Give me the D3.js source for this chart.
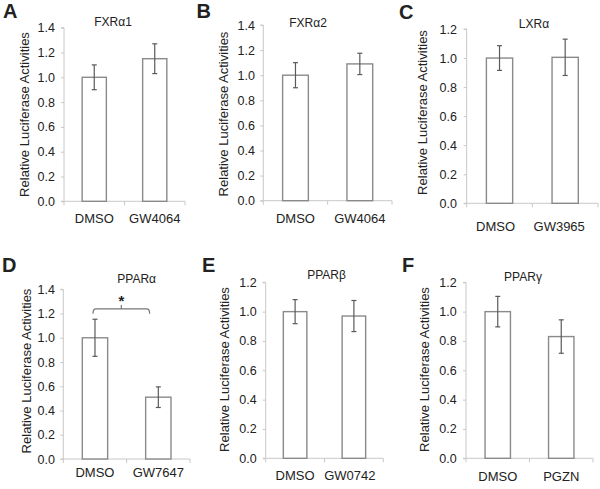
<!DOCTYPE html>
<html><head><meta charset="utf-8">
<script src="https://cdn.jsdelivr.net/npm/d3@7"></script>
<style>body{margin:0;background:#fff}svg{display:block}text{font-family:"Liberation Sans",Arial,sans-serif;fill:#222}</style>
</head><body><svg id="c" width="600" height="489"></svg>
<script>
// ---- data ----
const panelLetters = ["A","B","C","D","E","F"];
const titles = ["FXRα1","FXRα2","LXRα","PPARα","PPARβ","PPARγ"];
const categoriesA = ["DMSO","GW4064"];
const categoriesB = ["DMSO","GW4064"];
const categoriesC = ["DMSO","GW3965"];
const categoriesD = ["DMSO","GW7647"];
const categoriesE = ["DMSO","GW0742"];
const categoriesF = ["DMSO","PGZN"];
const valuesA = [1.00, 1.15], errorsA = [0.10, 0.12];
const valuesB = [1.00, 1.09], errorsB = [0.10, 0.085];
const valuesC = [1.00, 1.005], errorsC = [0.085, 0.125];
const valuesD = [1.00, 0.51], errorsD = [0.153, 0.085];
const valuesE = [1.00, 0.97], errorsE = [0.082, 0.106];
const valuesF = [1.00, 0.83], errorsF = [0.104, 0.114];
const yMaxes = [1.4, 1.4, 1.2, 1.4, 1.2, 1.2];
const yTicks14 = [0,0.2,0.4,0.6,0.8,1.0,1.2,1.4];
const yTicks12 = [0,0.2,0.4,0.6,0.8,1.0,1.2];
const yLabel = "Relative Luciferase Activities";
const sigMark = "*";

const categories = [categoriesA,categoriesB,categoriesC,categoriesD,categoriesE,categoriesF];
const values = [valuesA,valuesB,valuesC,valuesD,valuesE,valuesF];
const errors = [errorsA,errorsB,errorsC,errorsD,errorsE,errorsF];

// ---- layout (pixels) ----
const layout = [
  {x0:64,   x1:185, yTop:27.7,  yBot:201.3, tickR:55,    catY:222.5, catShift:[0,0],  titleX:113, titleY:26, letX:3,   letY:17.5,  labX:24,  labY:114.5},
  {x0:263.3,x1:392, yTop:25,    yBot:200.7, tickR:255,   catY:222.5, catShift:[0,0],  titleX:308, titleY:26.5, letX:196.5, letY:17.5, labX:223, labY:114},
  {x0:466.7,x1:598, yTop:29,    yBot:203.3, tickR:457,   catY:231,   catShift:[-4,-6], titleX:534, titleY:27.5, letX:399, letY:18.5, labX:422.5, labY:112.5},
  {x0:63.3, x1:190, yTop:289.3, yBot:459,   tickR:55,    catY:476.5, catShift:[0,0],  titleX:136.7, titleY:283, letX:2, letY:272, labX:26, labY:371},
  {x0:265.7,x1:383.3,yTop:282.3,yBot:458.3, tickR:256.7, catY:480,   catShift:[0,-4], titleX:326.5, titleY:279, letX:202, letY:271.5, labX:224, labY:369.5},
  {x0:466,  x1:593, yTop:282.3, yBot:458.3, tickR:456.7, catY:480.5, catShift:[0,0],  titleX:523, titleY:280.5, letX:402, letY:272, labX:424, labY:369.5}
];

const svg = d3.select("#c");
const axisCol = "#c8c8c8", barCol = "#8a8a8a", errCol = "#5a5a5a";

layout.forEach((L,i)=>{
  const g = svg.append("g");
  const x = d3.scaleBand().domain(categories[i]).range([L.x0, L.x1]).paddingInner(0.6).paddingOuter(0.3);
  const y = d3.scaleLinear().domain([0, yMaxes[i]]).range([L.yBot, L.yTop]);
  const ticks = yMaxes[i] > 1.3 ? yTicks14 : yTicks12;

  // y axis
  const ya = g.append("g").attr("transform",`translate(${L.x0},0)`)
    .call(d3.axisLeft(y).tickValues(ticks).tickFormat(d3.format(".1f")).tickSize(3).tickPadding(L.x0 - L.tickR - 3));
  ya.select(".domain").attr("stroke",axisCol).attr("stroke-width",1).attr("d",`M-3,${y(yMaxes[i])}H0V${L.yBot}`);
  ya.selectAll(".tick line").attr("stroke",axisCol);
  ya.selectAll(".tick text").attr("font-size",12.5).attr("fill","#222").attr("font-family","Liberation Sans, Arial, sans-serif");

  // x axis line + ticks between categories
  g.append("line").attr("x1",L.x0-3).attr("x2",L.x1).attr("y1",L.yBot).attr("y2",L.yBot).attr("stroke",axisCol);
  const bounds = [L.x0, (L.x0+L.x1)/2, L.x1];
  g.selectAll(".xt").data(bounds).join("line").attr("x1",d=>d).attr("x2",d=>d)
    .attr("y1",L.yBot).attr("y2",L.yBot+4).attr("stroke",axisCol);

  // bars
  g.selectAll(".bar").data(values[i]).join("rect")
    .attr("x",(d,j)=>x(categories[i][j])).attr("width",x.bandwidth())
    .attr("y",d=>y(d)).attr("height",d=>L.yBot - y(d))
    .attr("fill","#fff").attr("stroke",barCol).attr("stroke-width",1.4);

  // error bars
  values[i].forEach((v,j)=>{
    const cx = x(categories[i][j]) + x.bandwidth()/2;
    const e = errors[i][j];
    g.append("line").attr("x1",cx).attr("x2",cx).attr("y1",y(v+e)).attr("y2",y(v-e)).attr("stroke",errCol).attr("stroke-width",1.2);
    [v+e, v-e].forEach(w=>g.append("line").attr("x1",cx-2.5).attr("x2",cx+2.5).attr("y1",y(w)).attr("y2",y(w)).attr("stroke",errCol).attr("stroke-width",1.2));
  });

  // category labels
  g.selectAll(".cat").data(categories[i]).join("text")
    .attr("x",(d,j)=>x(d)+x.bandwidth()/2+L.catShift[j]).attr("y",L.catY).attr("text-anchor","middle")
    .attr("font-size",13).text(d=>d);

  // title
  g.append("text").attr("x",L.titleX).attr("y",L.titleY).attr("text-anchor","middle").attr("font-size",12).text(titles[i]);
  // panel letter
  g.append("text").attr("x",L.letX).attr("y",L.letY).attr("font-size",20).attr("font-weight","bold").attr("fill","#111").text(panelLetters[i]);
  // y label
  g.append("text").attr("transform",`translate(${L.labX},${L.labY}) rotate(-90)`).attr("text-anchor","middle")
    .attr("dominant-baseline","central").attr("font-size",13).text(yLabel);

  // significance bracket for PPARα
  if (i === 3) {
    const xl = x(categories[i][0]) + x.bandwidth()/2 - 2;
    const xr = x(categories[i][1]) + 4;
    const yb = y(1.238), ye = y(1.198), ym = (xl+xr)/2;
    g.append("path").attr("fill","none").attr("stroke","#777").attr("stroke-width",1.2)
      .attr("d",`M${xl},${ye} Q${xl},${yb} ${xl+3},${yb} L${xr-3},${yb} Q${xr},${yb} ${xr},${ye} M${ym},${yb} L${ym},${y(1.27)}`);
    g.append("text").attr("x",ym).attr("y",y(1.27)+1).attr("text-anchor","middle").attr("font-size",15).attr("font-weight","bold").text(sigMark);
  }
});
</script></body></html>
